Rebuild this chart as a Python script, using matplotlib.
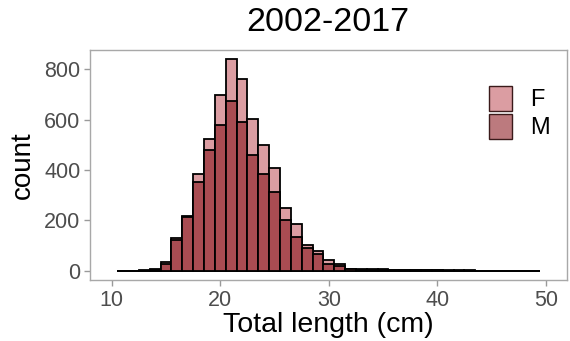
import matplotlib
matplotlib.use("Agg")
import matplotlib.pyplot as plt
from matplotlib.patches import Patch
import numpy as np

plt.rcParams['font.family'] = ['Liberation Sans', 'DejaVu Sans']

# bin centres (cm), bin width 1
length_bins = list(range(11, 50))
F_counts = [0, 0, 1, 6, 33, 131, 218, 384, 525, 697, 840, 763, 603, 500, 407, 251,
            185, 104, 80, 43, 27, 8, 6, 5, 5, 4, 3, 2, 2, 2, 1, 1, 1, 0, 0, 0, 0, 0, 0]
M_counts = [0, 0, 0, 4, 25, 120, 213, 353, 480, 577, 676, 592, 460, 383, 311, 203,
            133, 92, 67, 27, 20, 5, 4, 3, 3, 2, 2, 1, 1, 1, 0, 0, 0, 0, 0, 0, 0, 0, 0]
series_labels = ["F", "M"]
x_ticks = [10, 20, 30, 40, 50]
y_ticks = [0, 200, 400, 600, 800]

col_F = "#DB9DA2"
col_M = "#A94C52"
col_M_legend = "#BC7A7E"

fig = plt.figure(figsize=(5.7, 3.41), dpi=100)
ax = fig.add_axes([90/570, 1-280/341, (566.5-90)/570, (280-50)/341])

x = np.array(length_bins)
ax.bar(x, F_counts, width=1.0, color=col_F, edgecolor="black", linewidth=1.3, zorder=2)
ax.bar(x, M_counts, width=1.0, color=col_M, edgecolor="black", linewidth=1.3, zorder=3)

ax.set_xlim(8.0, 51.9)
ax.set_ylim(-37, 877)
ax.set_xticks(x_ticks)
ax.set_yticks(y_ticks)
ax.tick_params(axis="both", colors="#9a9a9a", length=4, width=1.0, labelsize=15.5,
               labelcolor="#4d4d4d", pad=3)
for s in ax.spines.values():
    s.set_color("#a8a8a8")
    s.set_linewidth(1.0)

fig.text(328/570, 1-22.5/341, "2002-2017", ha="center", va="center", fontsize=24.5, color="black")
ax.set_xlabel("Total length (cm)", fontsize=20.5, color="black", labelpad=1)
ax.set_ylabel("count", fontsize=20, color="black", labelpad=6)

handles = [Patch(facecolor=col_F, edgecolor="#3a1a1a", linewidth=1.0),
           Patch(facecolor=col_M_legend, edgecolor="#3a1a1a", linewidth=1.0)]
leg = ax.legend(handles, series_labels, loc="upper right", bbox_to_anchor=(0.985, 0.885),
                frameon=False, fontsize=17, handlelength=1.0, handleheight=1.25,
                handletextpad=0.75, labelspacing=0.1, borderaxespad=0)

fig.savefig("out.png", dpi=100)
